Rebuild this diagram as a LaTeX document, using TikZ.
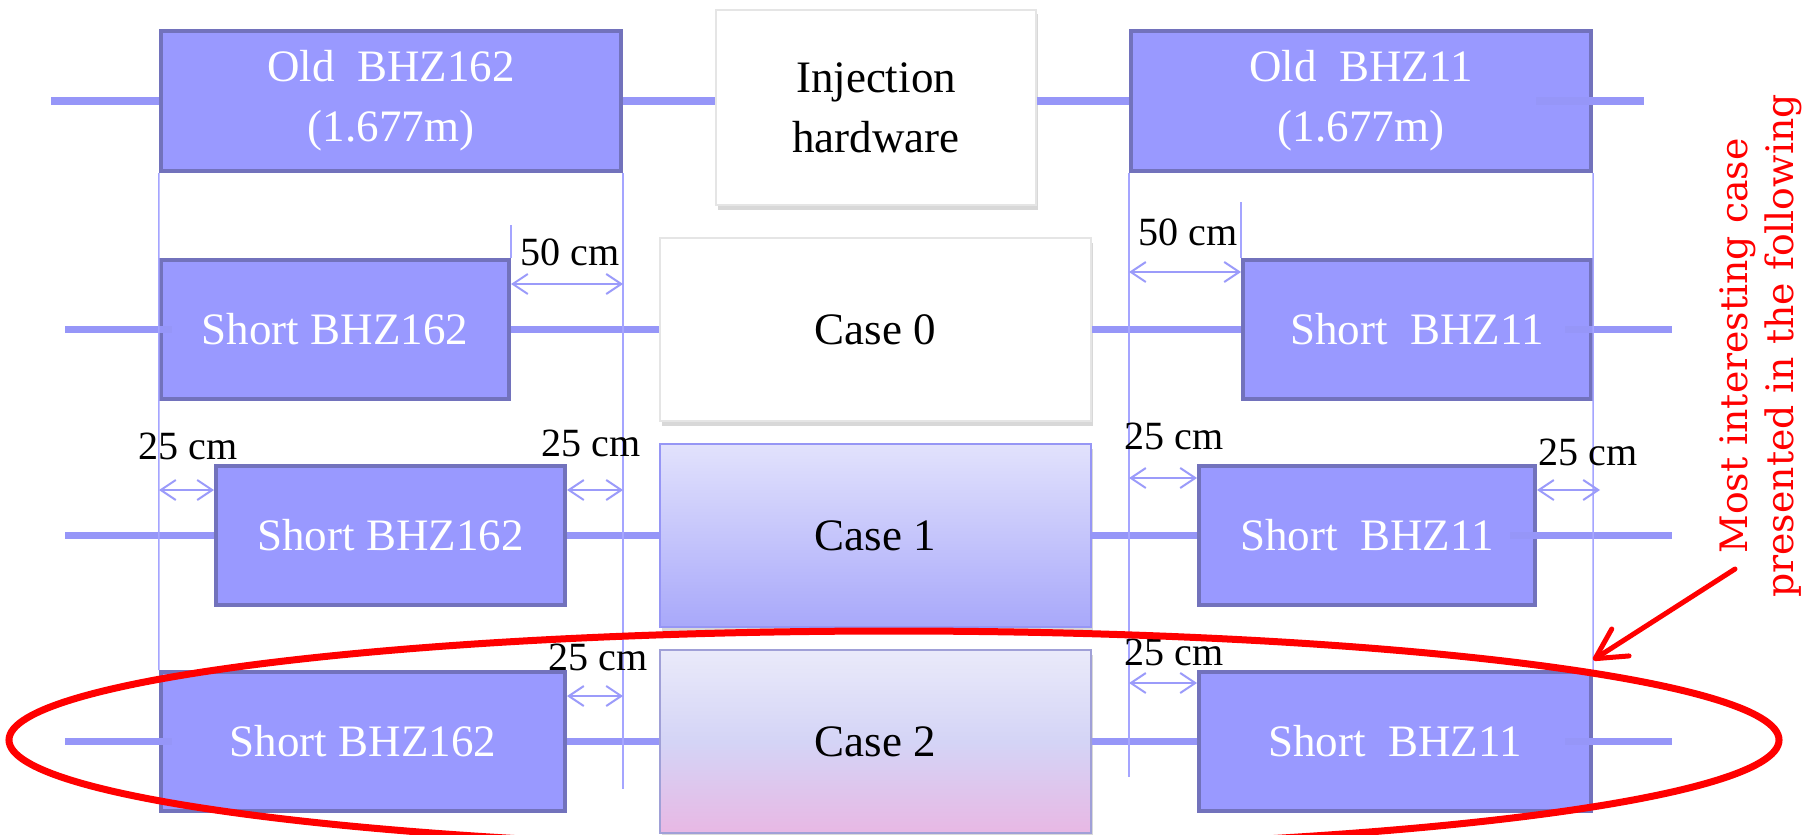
\documentclass[tikz,border=0pt]{standalone}
\usepackage{fontspec}
\setmainfont{Liberation Serif}
\newfontfamily\notefont{DejaVu Serif}
\usepackage{tikz}
\usetikzlibrary{arrows.meta,positioning,shadows}
\definecolor{magfill}{RGB}{153,153,255}
\definecolor{magdraw}{RGB}{114,114,188}
\definecolor{beamblue}{RGB}{150,150,248}
\definecolor{guideblue}{RGB}{165,165,255}
\definecolor{dimblue}{RGB}{155,155,250}
\definecolor{caseedge}{RGB}{150,150,245}
\definecolor{casetop}{RGB}{226,226,252}
\definecolor{casebot}{RGB}{168,168,250}
\definecolor{twotop}{RGB}{234,234,250}
\definecolor{twomid}{RGB}{212,212,246}
\definecolor{twobot}{RGB}{232,184,228}
\definecolor{twoedge}{RGB}{160,160,215}
\definecolor{alertred}{RGB}{255,0,0}
\tikzset{
  magnet/.style  = {draw=magdraw,line width=0.8mm,fill=magfill,text=white,
                    minimum height=27.8mm,inner sep=0pt,align=center,
                    font=\fontsize{25.6}{34}\selectfont},
  hwbox/.style   = {draw=black!10,line width=0.3mm,fill=white,text=black,
                    minimum width=86.2mm,minimum height=36.6mm,inner sep=0pt,
                    align=center,font=\fontsize{25.6}{34}\selectfont,
                    drop shadow={shadow xshift=0.4mm,shadow yshift=-0.9mm,opacity=0.3}},
  beam/.style    = {draw=beamblue,line width=1.4mm},
  guide/.style   = {draw=guideblue,line width=0.3mm},
  dim/.style     = {{Straight Barb[length=3mm,width=4mm]}-{Straight Barb[length=3mm,width=4mm]},
                    draw=dimblue,line width=0.4mm},
  dimlabel/.style= {font=\fontsize{22.8}{27}\selectfont,inner sep=0pt},
  note/.style    = {font=\notefont\fontsize{21.5}{26.2}\selectfont,text=alertred,
                    align=center,rotate=90,inner sep=0pt},
  pointer/.style = {-{Straight Barb[length=6mm,width=6.4mm,round]},draw=alertred,
                    line width=1mm,line cap=round},
  ring/.style    = {draw=alertred,line width=1.4mm},
}
\begin{document}
\begin{tikzpicture}[x=0.2mm,y=-0.2mm]
  \path[fill=white,use as bounding box] (0,0) rectangle (1820,834);

  % present layout
  \node[magnet,minimum width=92mm,minimum height=28mm] (old162) at (391,101) {Old\ \ BHZ162\\(1.677m)};
  \node[hwbox,minimum width=64mm,minimum height=39mm] (inj) at (876,107.5) {Injection\\hardware};
  \node[magnet,minimum width=92mm,minimum height=28mm] (old11) at (1361,101) {Old\ \ BHZ11\\(1.677m)};

  % case 0
  \node[magnet,minimum width=69.6mm] (s162a) at (335,329.5) {Short BHZ162};
  \node[hwbox] (case0) at (875.5,329.5) {Case 0};
  \node[magnet,minimum width=69.6mm] (s11a) at (1417,329.5) {Short\ \ BHZ11};

  % case 1
  \node[magnet,minimum width=69.8mm] (s162b) at (390.5,535.5) {Short BHZ162};
  \node[hwbox,draw=caseedge,top color=casetop,bottom color=casebot] (case1) at (875.5,535.5) {Case 1};
  \node[magnet,minimum width=67.2mm] (s11b) at (1367,535.5) {Short\ \ BHZ11};

  % case 2
  \node[magnet,minimum width=80.8mm] (s162c) at (363,741.5) {Short BHZ162};
  \node[hwbox,draw=twoedge,top color=twotop,bottom color=twobot,middle color=twomid] (case2) at (875.5,741.5) {Case 2};
  \node[magnet,minimum width=78.4mm] (s11c) at (1395,741.5) {Short\ \ BHZ11};

  % beam line
  \coordinate (in1) at (51,101);   \coordinate (out1) at (1644,101);
  \coordinate (in2) at (65,329.5); \coordinate (out2) at (1672,329.5);
  \coordinate (in3) at (65,535.5); \coordinate (out3) at (1672,535.5);
  \coordinate (in4) at (65,741.5); \coordinate (out4) at (1672,741.5);
  \draw[beam] (in1) -- (old162.west);
  \draw[beam] (old162.east) -- (old162.east -| inj.west);
  \draw[beam] (old11.west -| inj.east) -- (old11.west);
  \draw[beam] ([xshift=-11.4mm]old11.east) -- (out1);
  \draw[beam] (in2) -- ([xshift=2.6mm]s162a.west);
  \draw[beam] (s162a.east) -- (case0.west);
  \draw[beam] (case0.east) -- (s11a.west);
  \draw[beam] ([xshift=-5.6mm]s11a.east) -- (out2);
  \draw[beam] (in3) -- (s162b.west);
  \draw[beam] (s162b.east) -- (case1.west);
  \draw[beam] (case1.east) -- (s11b.west);
  \draw[beam] ([xshift=-5.4mm]s11b.east) -- (out3);
  \draw[beam] (in4) -- ([xshift=2.6mm]s162c.west);
  \draw[beam] (s162c.east) -- (case2.west);
  \draw[beam] (case2.east) -- (s11c.west);
  \draw[beam] ([xshift=-5.6mm]s11c.east) -- (out4);

  % reference edges
  \draw[guide] (old162.south west) -- (s162c.north west);
  \draw[guide] (old162.south east) -- ++(0,616);
  \draw[guide] (old11.south west) -- ++(0,604);
  \draw[guide] (old11.south east) -- (s11c.north east);
  \draw[guide] (s162a.north east) -- ++(0,-33);
  \draw[guide] (s11a.north west) -- ++(0,-56);

  % shifts
  \coordinate (r3end) at (1600,490);
  \draw[dim] (s162a.east |- 0,284) -- (old162.east |- 0,284);
  \draw[dim] (old11.west |- 0,272) -- (s11a.west |- 0,272);
  \draw[dim] (old162.west |- 0,490) -- (s162b.west |- 0,490);
  \draw[dim] (s162b.east |- 0,490) -- (old162.east |- 0,490);
  \draw[dim] (old11.west |- 0,478) -- (s11b.west |- 0,478);
  \draw[dim] (s11b.east |- 0,490) -- (r3end);
  \draw[dim] (s162c.east |- 0,696) -- (old162.east |- 0,696);
  \draw[dim] (old11.west |- 0,683) -- (s11c.west |- 0,683);

  \node[dimlabel] (l2a) at (570,252) {50 cm};
  \node[dimlabel] (l2b) at (1188,232) {50 cm};
  \node[dimlabel] (l3a) at (188,446) {25 cm};
  \node[dimlabel] (l3b) at (591,443) {25 cm};
  \node[dimlabel] (l3c) at (1174,436) {25 cm};
  \node[dimlabel] (l3d) at (1588,452) {25 cm};
  \node[dimlabel] (l4a) at (598,657) {25 cm};
  \node[dimlabel] (l4b) at (1174,652) {25 cm};

  % highlight
  \draw[ring] (894,740) ellipse [x radius=177mm,y radius=21.8mm];
  \node[note] (hint) at (1761,346) {Most interesting case\\presented in the following};
  \coordinate (tail) at (1735,569);
  \draw[pointer] (tail) -- ([yshift=2mm]s11c.north east);
\end{tikzpicture}
\end{document}
